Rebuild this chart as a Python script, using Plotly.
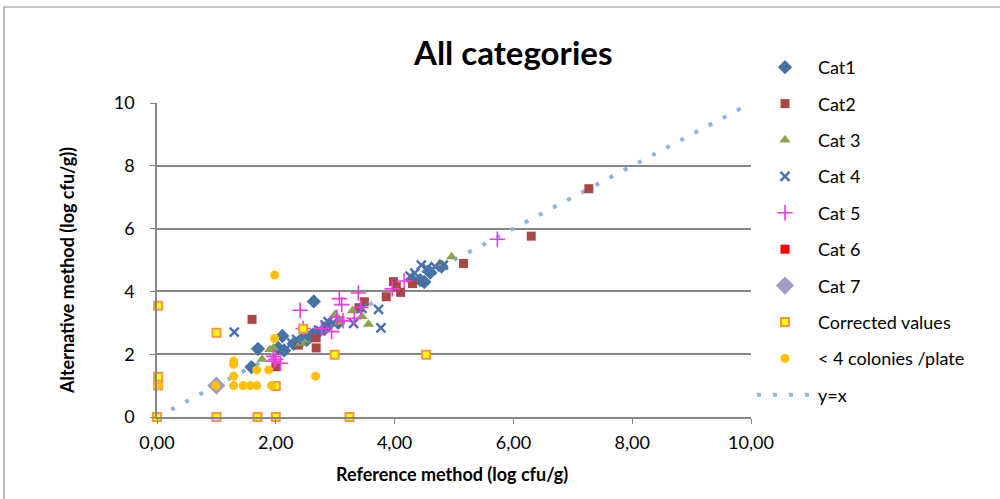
import plotly.graph_objects as go

# ---------------- data ----------------
cat1_x = [1.59, 1.70, 2.04, 2.14, 2.11, 2.64, 2.30, 2.38, 2.45, 2.52, 2.58, 2.48, 2.62, 2.70, 2.82, 2.90, 3.05, 4.30, 4.43, 4.50, 4.79, 4.60]
cat1_y = [1.59, 2.17, 2.20, 2.12, 2.58, 3.68, 2.33, 2.38, 2.45, 2.45, 2.56, 2.55, 2.62, 2.68, 2.80, 2.95, 3.00, 4.35, 4.36, 4.30, 4.79, 4.60]

cat2_x = [1.60, 2.00, 2.38, 2.68, 2.68, 3.40, 3.49, 3.86, 3.98, 4.03, 4.10, 4.30, 5.16, 6.30, 7.27]
cat2_y = [3.11, 1.60, 2.29, 2.52, 2.20, 3.48, 3.67, 3.83, 4.31, 4.15, 3.97, 4.25, 4.89, 5.76, 7.27]

cat3_x = [1.77, 1.90, 1.96, 2.42, 2.50, 3.00, 3.07, 3.29, 3.45, 3.56, 4.76, 4.96]
cat3_y = [1.84, 2.15, 2.20, 2.35, 2.45, 3.27, 3.02, 3.38, 3.20, 2.95, 4.89, 5.10]

cat4_x = [1.30, 2.27, 2.35, 2.49, 2.72, 2.83, 2.88, 3.31, 3.45, 3.73, 3.77, 4.26, 4.34, 4.45, 4.54, 4.62, 4.68, 4.82]
cat4_y = [2.70, 2.35, 2.47, 2.56, 2.77, 2.93, 3.04, 2.98, 3.46, 3.43, 2.84, 4.49, 4.58, 4.84, 4.74, 4.68, 4.79, 4.84]

cat5_x = [1.96, 1.97, 2.00, 2.08, 2.41, 2.46, 2.77, 2.94, 3.03, 3.07, 3.11, 3.13, 3.32, 3.39, 3.43, 3.96, 4.16, 5.73]
cat5_y = [1.93, 1.78, 1.84, 1.71, 3.40, 2.82, 2.82, 2.72, 3.18, 3.77, 3.58, 3.06, 3.14, 3.95, 3.49, 4.08, 4.33, 5.66]

cat6_x = [None]   # no visible points, legend entry only
cat6_y = [None]

cat7_x = [1.00]
cat7_y = [1.00]

corr_x = [0.00, 0.02, 0.02, 0.02, 1.00, 1.00, 1.69, 2.00, 3.24, 2.00, 2.99, 4.53, 2.46]
corr_y = [0.00, 3.54, 1.28, 1.00, 2.68, 0.00, 0.00, 0.00, 0.00, 0.99, 1.98, 1.98, 2.81]

low_x = [0.02, 0.99, 1.29, 1.29, 1.29, 1.29, 1.45, 1.57, 1.68, 1.68, 1.88, 1.93, 1.98, 1.98, 2.67]
low_y = [1.00, 1.00, 1.78, 1.68, 1.30, 1.00, 1.00, 1.00, 1.00, 1.50, 1.50, 1.00, 2.50, 4.52, 1.30]

line_x = [0, 10]
line_y = [0, 10]

x_ticks = [0, 2, 4, 6, 8, 10]
x_tick_labels = ["0,00", "2,00", "4,00", "6,00", "8,00", "10,00"]
y_ticks = [0, 2, 4, 6, 8, 10]

FONT = "Lato"
FS = 18

fig = go.Figure()

def add(name, xs, ys, symbol, color, size, legend, rank, line=None):
    mk = dict(symbol=symbol, color=color, size=size)
    mk["line"] = line if line else dict(width=0)
    fig.add_trace(go.Scatter(x=xs, y=ys, mode="markers", name=name, marker=mk,
                             legendgroup=name, legend=legend, legendrank=rank,
                             cliponaxis=False))

fig.add_trace(go.Scatter(x=line_x, y=line_y, mode="lines", name="y=x",
                         line=dict(color="#8DB4E2", width=4, dash="4px,12px"),
                         legendgroup="y=x", legend="legend2", legendrank=10,
                         cliponaxis=False))
add("Cat1", cat1_x, cat1_y, "diamond", "#4572A7", 11, "legend", 1)
add("Cat2", cat2_x, cat2_y, "square", "#AA4643", 9, "legend", 2)
add("Cat 3", cat3_x, cat3_y, "triangle-up", "#89A54E", 10, "legend", 3)
add("Cat 4", cat4_x, cat4_y, "x-thin-open", "#4A72B0", 9, "legend", 4, dict(color="#4A72B0", width=2.5))
add("Cat 5", cat5_x, cat5_y, "cross-thin-open", "#F23DDC", 11, "legend", 5, dict(color="#F23DDC", width=1.6))
add("Cat 6", cat6_x, cat6_y, "square", "#FF0000", 9, "legend2", 6)
add("Cat 7", cat7_x, cat7_y, "diamond", "#A59CC4", 14, "legend2", 7)
add("Corrected values", corr_x, corr_y, "square", "#FFFF00", 8, "legend2", 8, dict(color="#F79646", width=2))
add("< 4 colonies /plate", low_x, low_y, "circle", "#FFC000", 9, "legend2", 9)

L, R, T, B = 157, 249, 103, 82
PW, PH = 1000 - L - R, 499 - T - B

def px_x(p):
    return (p - L) / PW

def px_y(p):
    return (499 - B - p) / PH

legend_common = dict(xanchor="left", yanchor="top", font=dict(family=FONT, size=FS),
                     itemwidth=56, tracegroupgap=10, bgcolor="rgba(0,0,0,0)", borderwidth=0)

fig.update_layout(
    width=1000, height=499,
    margin=dict(l=L, r=R, t=T, b=B, pad=0),
    paper_bgcolor="white", plot_bgcolor="white",
    font=dict(family=FONT, size=FS, color="#000000"),
    showlegend=True,
    legend=dict(x=px_x(752), y=px_y(49), **legend_common),
    legend2=dict(x=px_x(752), y=px_y(231), **legend_common),
    xaxis=dict(range=[0, 10], tickvals=x_ticks, ticktext=x_tick_labels,
               showgrid=False, zeroline=False, showline=True, linecolor="#868686",
               linewidth=1.5, ticks="outside", ticklen=5, tickcolor="#868686",
               tickfont=dict(family=FONT, size=FS), ticklabelstandoff=4, fixedrange=True),
    yaxis=dict(range=[0, 10], tickvals=y_ticks, showgrid=True, gridcolor="#868686",
               gridwidth=1.5, zeroline=False, showline=True, linecolor="#868686",
               linewidth=1.5, ticks="outside", ticklen=5, tickcolor="#868686",
               tickfont=dict(family=FONT, size=FS), ticklabelstandoff=12, fixedrange=True),
    annotations=[
        dict(text="<b>All categories</b>", x=px_x(512), y=px_y(52), xref="paper", yref="paper",
             xanchor="center", yanchor="middle", showarrow=False,
             font=dict(family=FONT, size=33, color="#000000")),
        dict(text="<b>Reference method (log cfu/g)</b>", x=px_x(452), y=px_y(474),
             xref="paper", yref="paper", xanchor="center", yanchor="middle",
             showarrow=False, font=dict(family=FONT, size=FS, color="#000000")),
        dict(text="<b>Alternative method (log cfu/g))</b>", x=px_x(67), y=px_y(271),
             xref="paper", yref="paper", xanchor="center", yanchor="middle",
             textangle=-90, showarrow=False, font=dict(family=FONT, size=FS, color="#000000")),
    ],
    shapes=[dict(type="rect", xref="paper", yref="paper",
                 x0=px_x(4), x1=px_x(1010), y0=px_y(510), y1=px_y(7),
                 line=dict(color="#8C8C8C", width=1.2), fillcolor="rgba(0,0,0,0)", layer="below")],
)

fig.write_html("out.html", config={"displayModeBar": False},
               post_script="document.body.style.margin='0';document.body.style.overflow='hidden';")
